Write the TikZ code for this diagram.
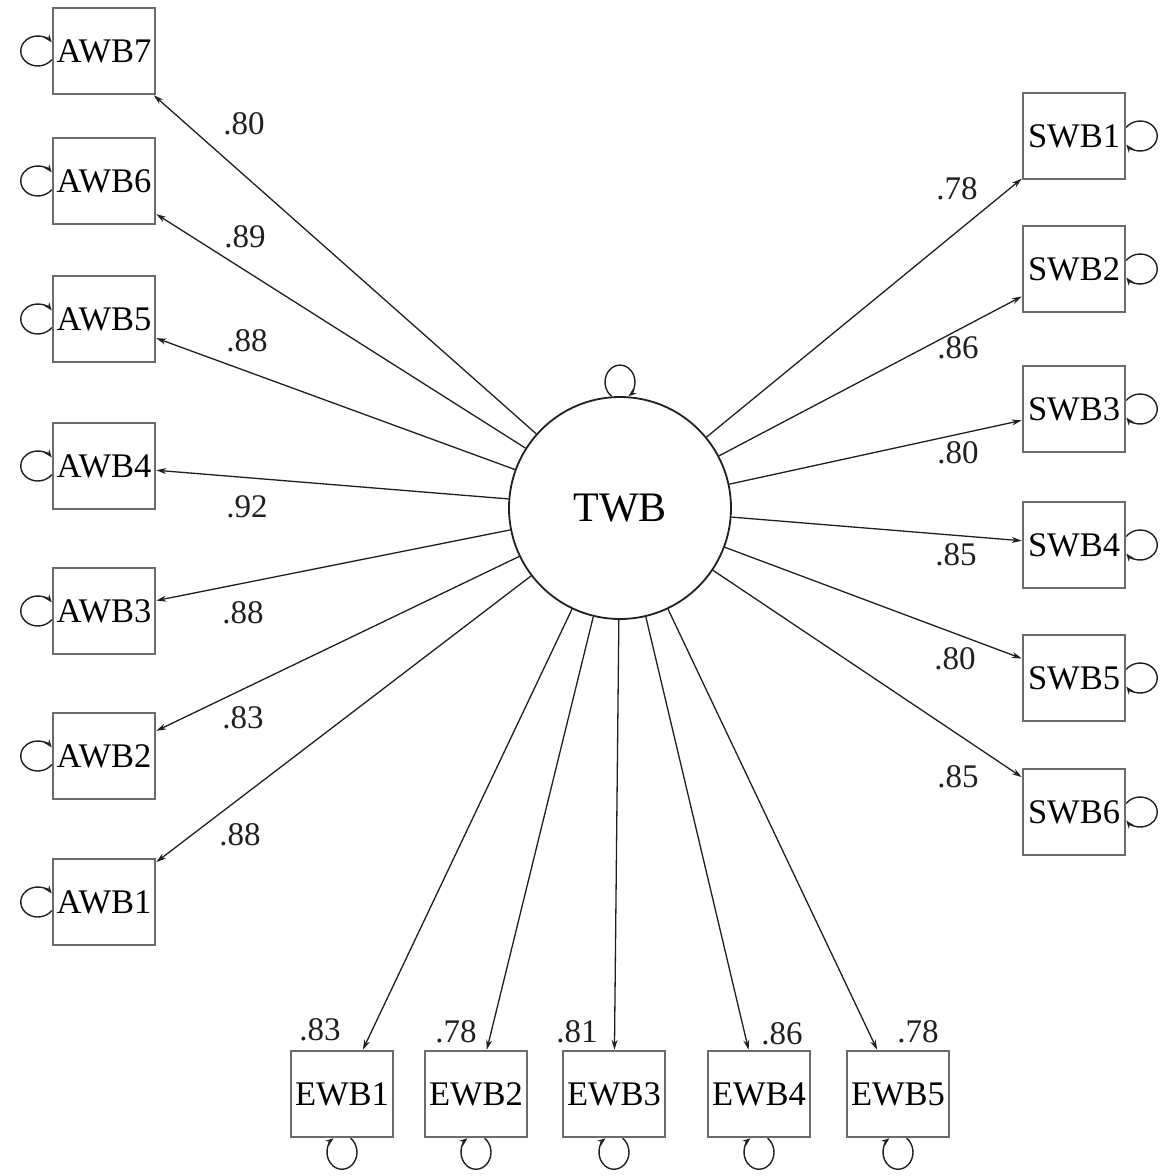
\documentclass[tikz,border=0pt]{standalone}
\usepackage{fontspec}
\setmainfont{Liberation Serif}
\usetikzlibrary{arrows.meta}
\definecolor{boxgray}{gray}{0.42}
\definecolor{ink}{gray}{0.12}
\begin{document}
\begin{tikzpicture}[x=1pt,y=-1pt,
  obs/.style={draw=boxgray, line width=2.5pt, minimum width=102pt, minimum height=86pt,
              inner sep=0pt, font=\fontsize{34.5}{37}\selectfont},
  lat/.style={draw=ink, line width=1.8pt, circle, minimum size=222pt, inner sep=0pt,
              font=\fontsize{42}{46}\selectfont},
  load/.style={line width=1.3pt, draw=ink, -{Stealth[length=10pt,width=6pt]}},
  coef/.style={font=\fontsize{33}{36}\selectfont, inner sep=0pt, text=ink},
  selfloop/.style={line width=1.4pt, draw=ink, -{Stealth[length=8pt,width=6pt]}}
]
\useasboundingbox (0,0) rectangle (1160,1176);

% latent factor
\node[lat] (TWB) at (620,508) {TWB};

% affective indicators
\node[obs] (AWB7) at (104,51)  {AWB7};
\node[obs] (AWB6) at (104,181) {AWB6};
\node[obs] (AWB5) at (104,319) {AWB5};
\node[obs] (AWB4) at (104,466) {AWB4};
\node[obs] (AWB3) at (104,611) {AWB3};
\node[obs] (AWB2) at (104,756) {AWB2};
\node[obs] (AWB1) at (104,902) {AWB1};

% subjective indicators
\node[obs] (SWB1) at (1074,136) {SWB1};
\node[obs] (SWB2) at (1074,269) {SWB2};
\node[obs] (SWB3) at (1074,409) {SWB3};
\node[obs] (SWB4) at (1074,545) {SWB4};
\node[obs] (SWB5) at (1074,678) {SWB5};
\node[obs] (SWB6) at (1074,812) {SWB6};

% eudaimonic indicators
\node[obs] (EWB1) at (342,1094) {EWB1};
\node[obs] (EWB2) at (476,1094) {EWB2};
\node[obs] (EWB3) at (614,1094) {EWB3};
\node[obs] (EWB4) at (759,1094) {EWB4};
\node[obs] (EWB5) at (898,1094) {EWB5};

% loadings
\foreach \n in {AWB1,AWB2,AWB3,AWB4,AWB5,AWB6,AWB7,
                SWB1,SWB2,SWB3,SWB4,SWB5,SWB6,
                EWB1,EWB2,EWB3,EWB4,EWB5}
  \draw[load] (TWB) -- (\n);

% loading values
\node[coef] (cA7) at (244,124) {.80};
\node[coef] (cA6) at (245,237) {.89};
\node[coef] (cA5) at (247,341) {.88};
\node[coef] (cA4) at (247,507) {.92};
\node[coef] (cA3) at (243,613) {.88};
\node[coef] (cA2) at (243,718) {.83};
\node[coef] (cA1) at (240,835) {.88};

\node[coef] (cS1) at (957,189) {.78};
\node[coef] (cS2) at (958,348) {.86};
\node[coef] (cS3) at (958,453) {.80};
\node[coef] (cS4) at (956,555) {.85};
\node[coef] (cS5) at (955,659) {.80};
\node[coef] (cS6) at (958,777) {.85};

\node[coef] (cE1) at (320,1030) {.83};
\node[coef] (cE2) at (456,1032) {.78};
\node[coef] (cE3) at (577,1032) {.81};
\node[coef] (cE4) at (782,1034) {.86};
\node[coef] (cE5) at (918,1032) {.78};

% self-loops (left side)
\foreach \n in {AWB1,AWB2,AWB3,AWB4,AWB5,AWB6,AWB7}
  \draw[selfloop] ([shift={(0,8.5)}]\n.west)
    arc[start angle=34.6, end angle=325.4, x radius=17, y radius=15];
% self-loops (right side)
\foreach \n in {SWB1,SWB2,SWB3,SWB4,SWB5,SWB6}
  \draw[selfloop] ([shift={(0,-8.5)}]\n.east)
    arc[start angle=-145.4, end angle=145.4, x radius=17, y radius=15];
% self-loops (below)
\foreach \n in {EWB1,EWB2,EWB3,EWB4,EWB5}
  \draw[selfloop] ([shift={(8.5,0)}]\n.south)
    arc[start angle=-55.4, end angle=235.4, x radius=15, y radius=17];
% self-loop on the factor
\draw[selfloop] ([shift={(-8.5,0)}]TWB.north)
  arc[start angle=124.6, end angle=415.4, x radius=15, y radius=17];
\end{tikzpicture}
\end{document}
